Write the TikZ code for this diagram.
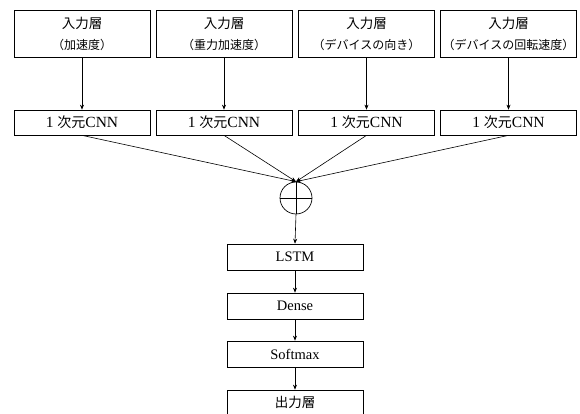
\documentclass[tikz,border=0pt]{standalone}
\usepackage{fontspec}
\setmainfont{Liberation Serif}
\newfontfamily\cjk{Noto Sans CJK JP}
\usetikzlibrary{arrows.meta}
\begin{document}
\begin{tikzpicture}[x=1pt,y=-1pt,
  box/.style={draw,line width=0.7pt,inner sep=0pt,minimum width=136pt},
  inbox/.style={box,minimum height=47pt},
  cnnbox/.style={box,minimum height=25pt,font=\fontsize{15.5}{18}\selectfont},
  lowbox/.style={box,minimum height=26pt,font=\fontsize{14.5}{17}\selectfont},
  ttl/.style={inner sep=0pt,font=\cjk\fontsize{13.5}{16}\selectfont},
  sub/.style={inner sep=0pt,font=\cjk\fontsize{12}{14}\selectfont},
  arr/.style={draw,line width=0.6pt,-{Stealth[length=5pt,width=4pt]}}]
\useasboundingbox (0,0) rectangle (580,414);
% input boxes
\foreach \i/\x/\s in {1/82/（加速度）,2/224/（重力加速度）,3/366.5/（デバイスの向き）,4/508.5/（デバイスの回転速度）}{
  \node[inbox] (in\i) at (\x,33.5) {};
  \node[ttl] (t\i) at (\x,23) {入力層};
  \node[sub] (s\i) at (\x,45) {\s};
  \node[cnnbox] (cnn\i) at (\x,122.5) {1 {\cjk\fontsize{14}{16}\selectfont 次元}CNN};
  \draw[arr] (in\i.south) -- (cnn\i.north);
}
% sum node
\node[draw,circle,line width=0.7pt,minimum size=32pt,inner sep=0pt] (sum) at (296,198) {};
\draw[line width=0.6pt] (sum.north) -- (sum.south) (sum.west) -- (sum.east);
\foreach \i in {1,2,3,4}{
  \draw[arr] (cnn\i.south) -- (sum.north);
}
\node[lowbox] (lstm) at (295,257) {LSTM};
\node[lowbox] (dense) at (295,306) {Dense};
\node[lowbox] (soft) at (295,354) {Softmax};
\node[lowbox,minimum height=30pt] (out) at (295,405) {};
\node[ttl] (outt) at (295,402) {出力層};
\draw[arr] (sum.south) -- (lstm.north);
\draw[arr] (lstm.south) -- (dense.north);
\draw[arr] (dense.south) -- (soft.north);
\draw[arr] (soft.south) -- (out.north);
\end{tikzpicture}
\end{document}
